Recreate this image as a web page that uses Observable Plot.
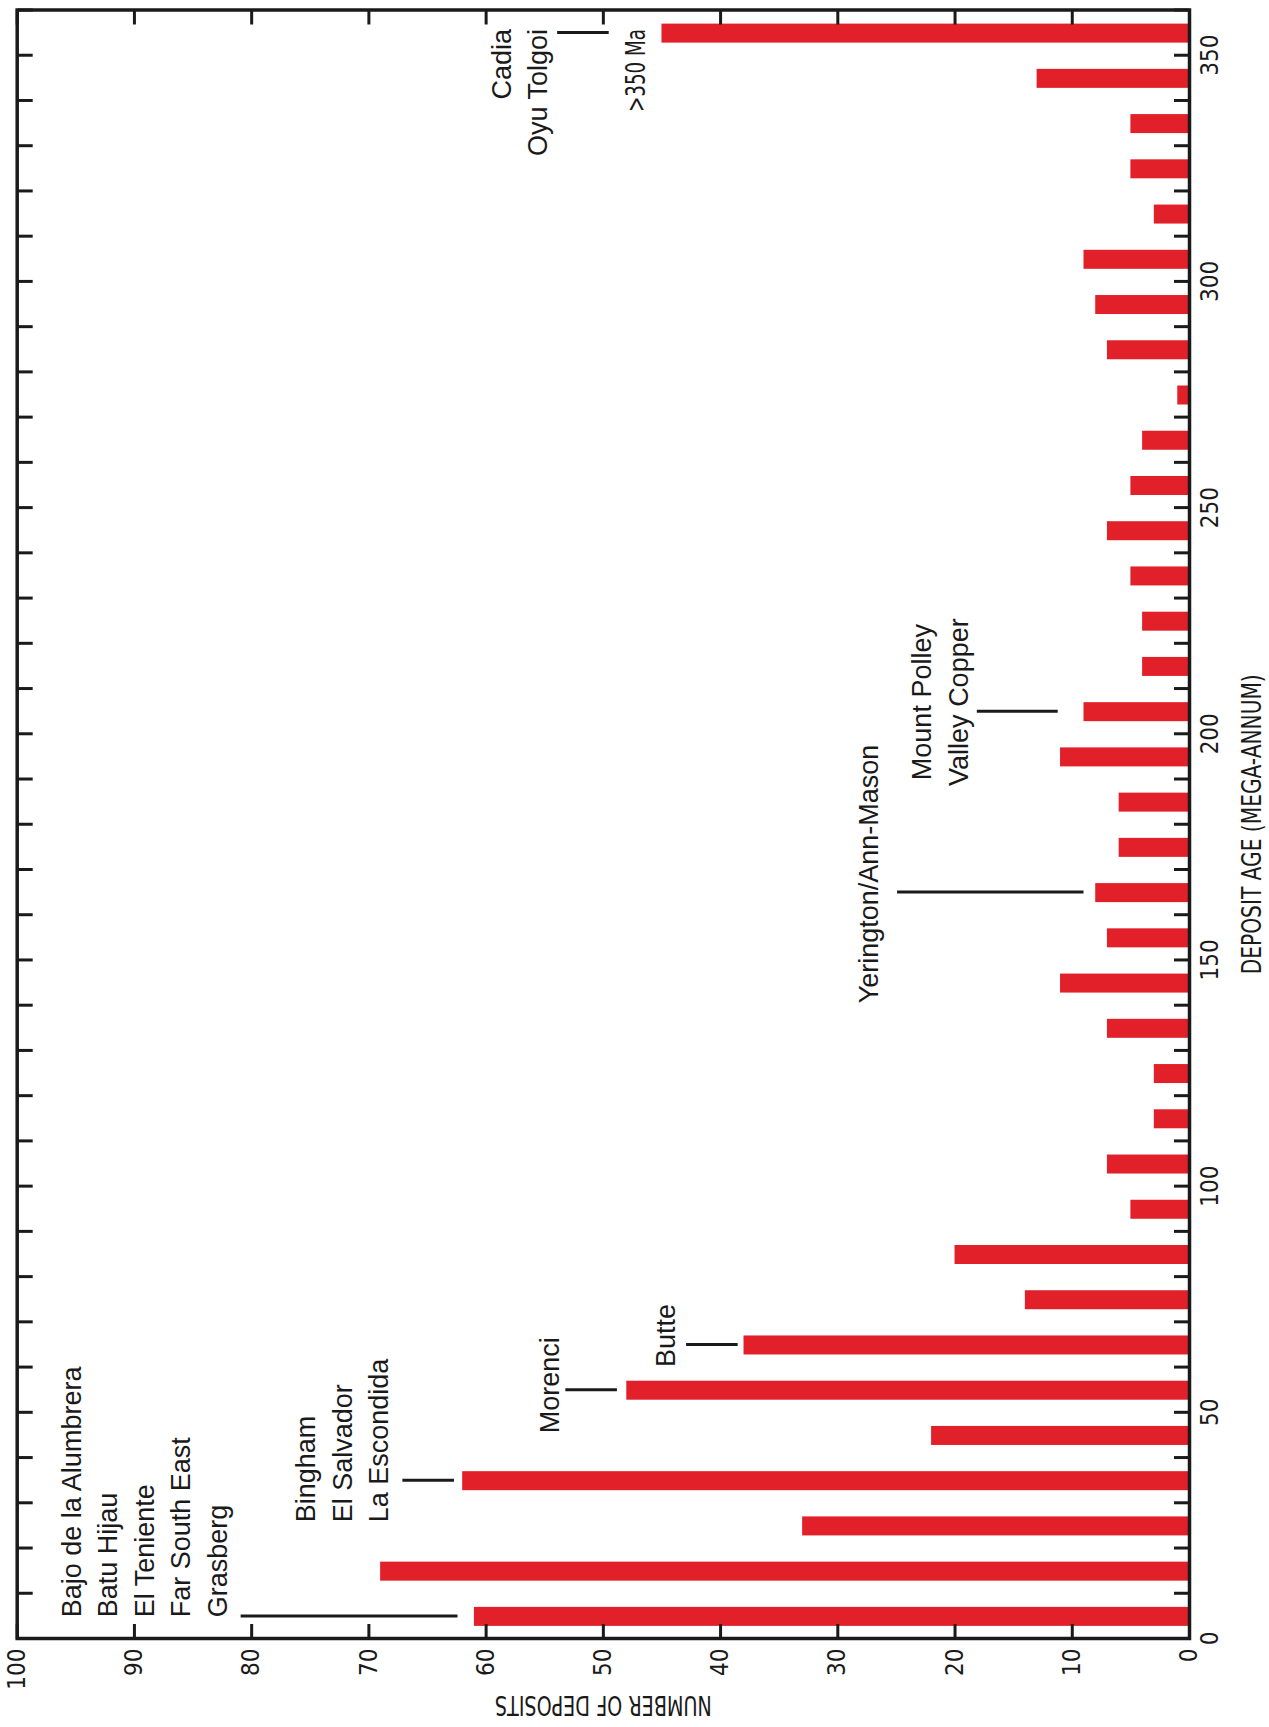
<!DOCTYPE html>
<html>
<head>
<meta charset="utf-8">
<script src="https://cdn.jsdelivr.net/npm/d3@7"></script>
<script src="https://cdn.jsdelivr.net/npm/@observablehq/plot@0.6"></script>
<style>
  html, body { margin: 0; padding: 0; background: #ffffff; overflow: hidden; }
  body { width: 1269px; height: 1727px; position: relative; }
  #chart {
    position: absolute; left: 0; top: 0;
    width: 1727px; height: 1269px;
    transform-origin: 0 0;
    transform: translate(0px, 1727px) rotate(-90deg);
  }
</style>
</head>
<body>
<div id="chart"></div>
<script>
// ---- data (age bins in Ma, number of deposits per 10 Ma bin) ----
const ages   = [5, 15, 25, 35, 45, 55, 65, 75, 85, 95, 105, 115, 125, 135, 145, 155, 165, 175,
                185, 195, 205, 215, 225, 235, 245, 255, 265, 275, 285, 295, 305, 315, 325, 335, 345, 355];
const counts = [61, 69, 33, 62, 22, 48, 38, 14, 20, 5, 7, 3, 3, 7, 11, 7, 8, 6,
                6, 11, 9, 4, 4, 5, 7, 5, 4, 1, 7, 8, 9, 3, 5, 5, 13, 45];

// ---- tick values / labels ----
const ageTicks      = [0, 10, 20, 30, 40, 50, 60, 70, 80, 90, 100, 110, 120, 130, 140, 150, 160, 170, 180,
                       190, 200, 210, 220, 230, 240, 250, 260, 270, 280, 290, 300, 310, 320, 330, 340, 350, 360];
const ageTickLabels = [0, 50, 100, 150, 200, 250, 300, 350];
const countTicks    = [0, 10, 20, 30, 40, 50, 60, 70, 80, 90, 100];
const xTitle = "DEPOSIT AGE (MEGA-ANNUM)";
const yTitle = "NUMBER OF DEPOSITS";

// ---- annotations ----
const annoTexts   = ["Bajo de la Alumbrera\nBatu Hijau\nEl Teniente\nFar South East\nGrasberg",
                     "Bingham\nEl Salvador\nLa Escondida",
                     "Morenci", "Butte", "Yerington/Ann-Mason",
                     "Mount Polley\nValley Copper", "Cadia\nOyu Tolgoi"];
const annoAges    = [4.7, 25.7, 56, 67, 169, 207, 355.8];
const annoCounts  = [89.35, 72.45, 54.8, 44.9, 27.6, 21.46, 57.35];
const annoAnchors = ["start", "start", "middle", "middle", "middle", "middle", "end"];

const leaderAges  = [5, 35, 55, 65, 165, 205, 355];
const leaderFrom  = [62.4, 62.7, 48.8, 38.5, 9.0, 11.2, 49.5];
const leaderTo    = [80.9, 67.1, 53.2, 42.9, 24.9, 18.1, 53.9];

const noteTexts  = [">350 Ma"];
const noteAges   = [355.8];
const noteCounts = [47.2];

// ---- build tables ----
const bars    = ages.map((a, i) => ({age: a, count: counts[i]}));
const annos   = annoTexts.map((t, i) => ({text: t, age: annoAges[i], count: annoCounts[i], anchor: annoAnchors[i]}));
const leaders = leaderAges.map((a, i) => ({age: a, from: leaderFrom[i], to: leaderTo[i]}));
const notes   = noteTexts.map((t, i) => ({text: t, age: noteAges[i], count: noteCounts[i]}));

const red = "#e2202a";
const ink = "#1a1a1a";
const narrow = "'Liberation Sans Narrow', 'Arial Narrow', 'DejaVu Sans Condensed', sans-serif";
const sans = "'Liberation Sans', Arial, Helvetica, sans-serif";
const halfBar = 2.1;

const annoMark = (anchor) => Plot.text(annos.filter(d => d.anchor === anchor), {
  x: "age", y: "count", text: "text",
  textAnchor: anchor, lineAnchor: "middle", lineHeight: 1.35,
  fontFamily: sans, fontSize: 27, fill: ink
});

const tickOpts = {tickSize: -15, tickFormat: () => "", strokeWidth: 3, stroke: ink, label: null};

const chart = Plot.plot({
  width: 1727,
  height: 1269,
  marginLeft: 88,
  marginRight: 10.5,
  marginTop: 16.7,
  marginBottom: 80,
  x: {domain: [0, 360]},
  y: {domain: [0, 100]},
  style: {background: "#ffffff", fontFamily: sans, color: ink},
  marks: [
    Plot.rectY(bars, {x1: d => d.age - halfBar, x2: d => d.age + halfBar, y1: 0, y2: "count", fill: red}),
    Plot.axisX({...tickOpts, anchor: "bottom", ticks: ageTicks}),
    Plot.axisX({...tickOpts, anchor: "top", ticks: ageTicks}),
    Plot.axisY({...tickOpts, anchor: "left", ticks: countTicks}),
    Plot.axisY({...tickOpts, anchor: "right", ticks: countTicks}),
    Plot.frame({stroke: ink, strokeWidth: 3.5}),
    Plot.ruleX(leaders, {x: "age", y1: "from", y2: "to", stroke: ink, strokeWidth: 3}),
    annoMark("start"),
    annoMark("middle"),
    annoMark("end"),
    Plot.text(notes, {x: "age", y: "count", text: "text", textAnchor: "end", lineAnchor: "middle",
                      fontFamily: narrow, fontSize: 26, fill: ink}),
    Plot.text(ageTickLabels, {x: d => d, frameAnchor: "bottom", dy: 21, textAnchor: "middle", lineAnchor: "middle",
                              fontFamily: narrow, fontSize: 24, fill: ink}),
    Plot.text(countTicks, {y: d => d, frameAnchor: "left", dx: -10, textAnchor: "end", lineAnchor: "middle",
                           fontFamily: narrow, fontSize: 24, fill: ink}),
    Plot.text([xTitle], {frameAnchor: "bottom", dy: 63.5, textAnchor: "middle", lineAnchor: "middle",
                         fontFamily: narrow, fontSize: 26, fill: ink}),
    Plot.text([yTitle], {frameAnchor: "left", dx: -66, rotate: -90, textAnchor: "middle", lineAnchor: "middle",
                         fontFamily: narrow, fontSize: 26, fill: ink})
  ]
});

// condense the condensed-type labels to the width they have in the original figure
const squeezed = new Map([[xTitle, 300], [yTitle, 217], [noteTexts[0], 83]]);
chart.querySelectorAll("text").forEach(t => {
  const len = squeezed.get(t.textContent);
  if (len) {
    t.setAttribute("textLength", len);
    t.setAttribute("lengthAdjust", "spacingAndGlyphs");
  }
});

document.getElementById("chart").appendChild(chart);
</script>
</body>
</html>
